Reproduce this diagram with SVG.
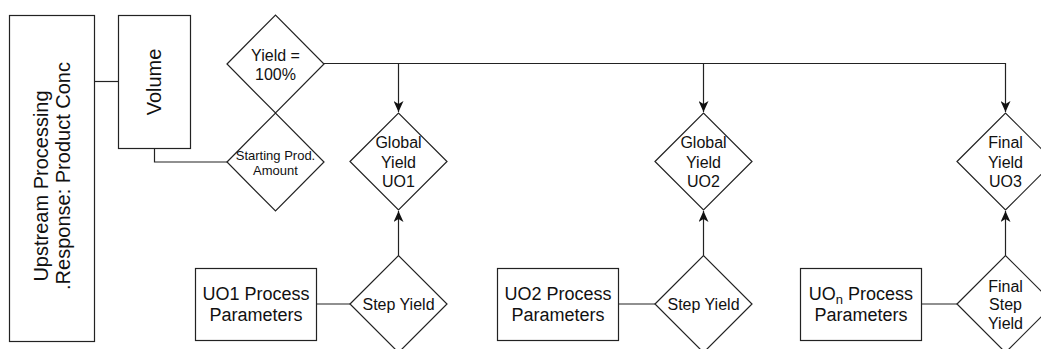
<svg xmlns="http://www.w3.org/2000/svg" width="1041" height="349" viewBox="0 0 1041 349">
<defs>
<style>
.shape{fill:#ffffff;stroke:#222;stroke-width:1.2}
.conn{fill:none;stroke:#222;stroke-width:1.2}
text{font-family:"Liberation Sans",Arial,sans-serif;fill:#111;text-anchor:middle}
.t16{font-size:16px}
.t13{font-size:13px}
.t18{font-size:18px}
.t20{font-size:20px}
</style>
<marker id="arr" markerUnits="userSpaceOnUse" markerWidth="12" markerHeight="10" viewBox="0 0 12 10" refX="11" refY="5" orient="auto">
<path d="M0,0 L11,5 L0,10 L3,5 Z" fill="#111"/>
</marker>
</defs>
<rect width="1041" height="349" fill="#ffffff"/>
<g id="connectors">
<path class="conn" d="M94.5,81.5 H118.5"/>
<path class="conn" d="M154.5,148.5 V162 H227"/>
<path class="conn" d="M323.5,63.5 H1005.5 V112" marker-end="url(#arr)"/>
<path class="conn" d="M398.5,63.5 V112" marker-end="url(#arr)"/>
<path class="conn" d="M703.5,63.5 V112" marker-end="url(#arr)"/>
<path class="conn" d="M398.5,255.5 V211" marker-end="url(#arr)"/>
<path class="conn" d="M703.5,255.5 V211" marker-end="url(#arr)"/>
<path class="conn" d="M1005.5,255.5 V211" marker-end="url(#arr)"/>
<path class="conn" d="M316.5,304 H350"/>
<path class="conn" d="M618.5,304 H655"/>
<path class="conn" d="M921.5,304 H957"/>
</g>
<g id="upstream">
<rect class="shape" x="9.5" y="15.5" width="85" height="326"/>
<text class="t20" transform="translate(48,186) rotate(-90)">Upstream Processing</text>
<text class="t20" transform="translate(70,176) rotate(-90)">.Response: Product Conc</text>
</g>
<g id="volume">
<rect class="shape" x="118.5" y="15.5" width="72" height="133"/>
<text class="t20" transform="translate(161,82) rotate(-90)">Volume</text>
</g>
<g id="yield100">
<polygon class="shape" points="227,64 275.5,15 324,64 275.5,113"/>
<text class="t16" x="275.5" y="60.5">Yield =</text>
<text class="t16" x="275.5" y="80">100%</text>
</g>
<g id="startamount">
<polygon class="shape" points="227,162 275.5,113 324,162 275.5,211"/>
<text class="t13" x="275.5" y="159.5">Starting Prod.</text>
<text class="t13" x="275.5" y="174.5">Amount</text>
</g>
<g id="globalyield1">
<polygon class="shape" points="350,161.5 398.5,113 447,161.5 398.5,210"/>
<text class="t16" x="398.5" y="148">Global</text>
<text class="t16" x="398.5" y="167.5">Yield</text>
<text class="t16" x="398.5" y="187">UO1</text>
</g>
<g id="stepyield1">
<polygon class="shape" points="350,304 398.5,255.5 447,304 398.5,352.5"/>
<text class="t16" x="398.5" y="310">Step Yield</text>
</g>
<g id="params1">
<rect class="shape" x="195.5" y="268.5" width="121" height="72"/>
<text class="t18" x="256" y="300">UO1 Process</text>
<text class="t18" x="256" y="321">Parameters</text>
</g>
<g id="globalyield2">
<polygon class="shape" points="655,161.5 703.5,113 752,161.5 703.5,210"/>
<text class="t16" x="703.5" y="148">Global</text>
<text class="t16" x="703.5" y="167.5">Yield</text>
<text class="t16" x="703.5" y="187">UO2</text>
</g>
<g id="stepyield2">
<polygon class="shape" points="655,304 703.5,255.5 752,304 703.5,352.5"/>
<text class="t16" x="703.5" y="310">Step Yield</text>
</g>
<g id="params2">
<rect class="shape" x="497.5" y="268.5" width="121" height="72"/>
<text class="t18" x="558" y="300">UO2 Process</text>
<text class="t18" x="558" y="321">Parameters</text>
</g>
<g id="finalyield3">
<polygon class="shape" points="957,161.5 1005.5,113 1054,161.5 1005.5,210"/>
<text class="t16" x="1005.5" y="148">Final</text>
<text class="t16" x="1005.5" y="167.5">Yield</text>
<text class="t16" x="1005.5" y="187">UO3</text>
</g>
<g id="finalstepyield">
<polygon class="shape" points="957,304 1005.5,255.5 1054,304 1005.5,352.5"/>
<text class="t16" x="1005.5" y="292">Final</text>
<text class="t16" x="1005.5" y="310">Step</text>
<text class="t16" x="1005.5" y="328.5">Yield</text>
</g>
<g id="paramsn">
<rect class="shape" x="800.5" y="268.5" width="121" height="72"/>
<text class="t18" x="861" y="300">UO<tspan font-size="13" dy="4">n</tspan><tspan dy="-4"> Process</tspan></text>
<text class="t18" x="861" y="321">Parameters</text>
</g>
</svg>
